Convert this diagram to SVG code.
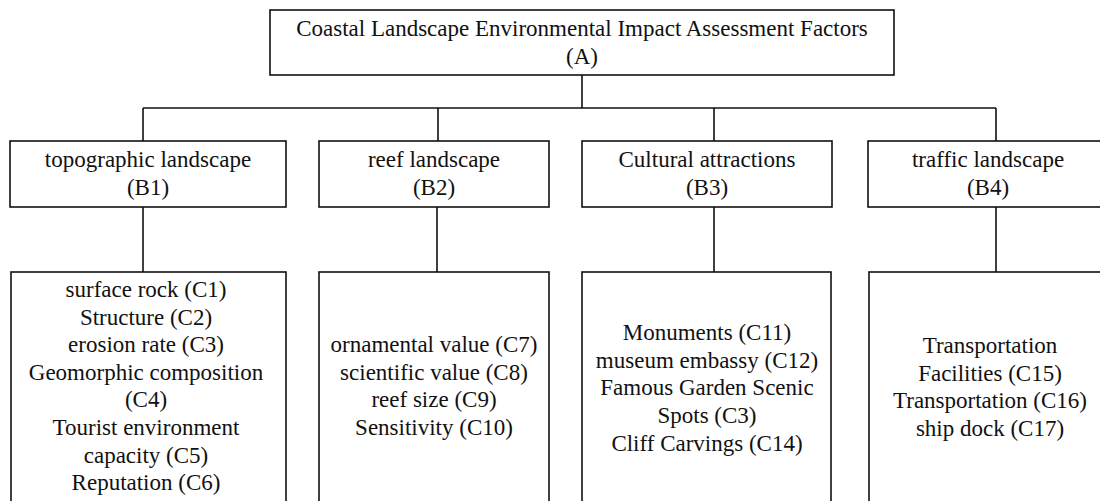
<svg xmlns="http://www.w3.org/2000/svg" width="1100" height="501" viewBox="0 0 1100 501">
<style>
.box{fill:#fff;stroke:#111;stroke-width:1.6}
.ln{stroke:#111;stroke-width:1.6;fill:none}
text{font-family:"Liberation Serif","Times New Roman",serif;font-size:23px;fill:#111;text-anchor:middle}
</style>
<rect width="1100" height="501" fill="#fff"/>
<g id="connectors">
<path class="ln" d="M582 75V108M143 108H996M143 108V141M438 108V141M714 108V141M996 108V141"/>
<path class="ln" d="M143 207V272M437 207V272M714 207V272M996 207V272"/>
</g>
<g id="A">
<rect class="box" x="270" y="10" width="624" height="65"/>
<text x="582" y="36">Coastal Landscape Environmental Impact Assessment Factors</text>
<text x="582" y="64">(A)</text>
</g>
<g id="B1">
<rect class="box" x="10" y="141" width="276" height="66"/>
<text x="148" y="167">topographic landscape</text>
<text x="148" y="195">(B1)</text>
</g>
<g id="B2">
<rect class="box" x="319" y="141" width="230" height="66"/>
<text x="434" y="167">reef landscape</text>
<text x="434" y="195">(B2)</text>
</g>
<g id="B3">
<rect class="box" x="582" y="141" width="250" height="66"/>
<text x="707" y="167">Cultural attractions</text>
<text x="707" y="195">(B3)</text>
</g>
<g id="B4">
<rect class="box" x="868" y="141" width="240" height="66"/>
<text x="988" y="167">traffic landscape</text>
<text x="988" y="195">(B4)</text>
</g>
<g id="C1">
<rect class="box" x="11" y="272" width="275" height="250"/>
<text x="146" y="297">surface rock (C1)</text>
<text x="146" y="324.6">Structure (C2)</text>
<text x="146" y="352.2">erosion rate (C3)</text>
<text x="146" y="379.8">Geomorphic composition</text>
<text x="146" y="407.4">(C4)</text>
<text x="146" y="435">Tourist environment</text>
<text x="146" y="462.6">capacity (C5)</text>
<text x="146" y="490.2">Reputation (C6)</text>
</g>
<g id="C2">
<rect class="box" x="319" y="272" width="230" height="250"/>
<text x="434" y="352">ornamental value (C7)</text>
<text x="434" y="379.6">scientific value (C8)</text>
<text x="434" y="407.2">reef size (C9)</text>
<text x="434" y="434.8">Sensitivity (C10)</text>
</g>
<g id="C3">
<rect class="box" x="582" y="272" width="249" height="250"/>
<text x="707" y="340">Monuments (C11)</text>
<text x="707" y="367.7">museum embassy (C12)</text>
<text x="707" y="395.4">Famous Garden Scenic</text>
<text x="707" y="423">Spots (C3)</text>
<text x="707" y="450.8">Cliff Carvings (C14)</text>
</g>
<g id="C4">
<rect class="box" x="869" y="272" width="242" height="250"/>
<text x="990" y="353">Transportation</text>
<text x="990" y="380.6">Facilities (C15)</text>
<text x="990" y="408.2">Transportation (C16)</text>
<text x="990" y="435.8">ship dock (C17)</text>
</g>
</svg>
